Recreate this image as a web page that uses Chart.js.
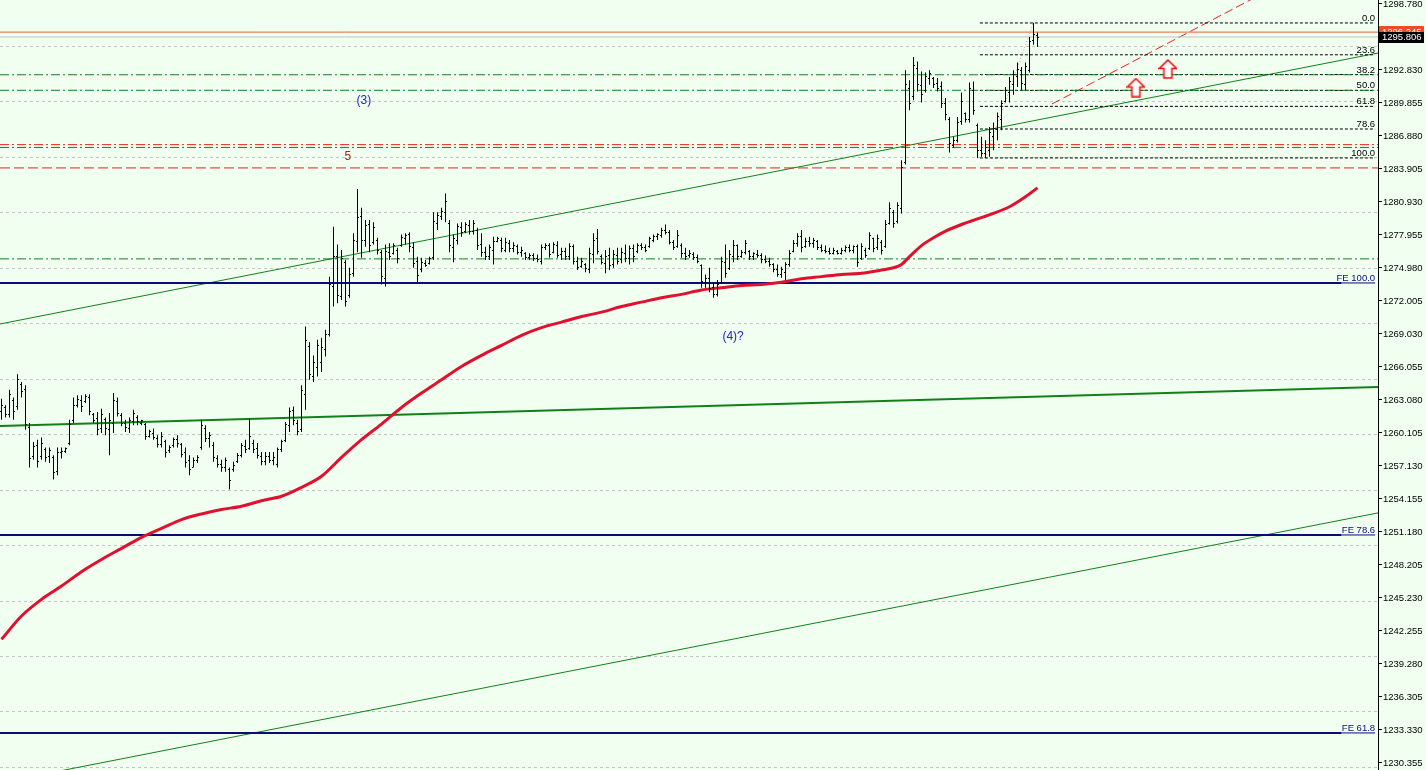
<!DOCTYPE html>
<html>
<head>
<meta charset="utf-8">
<title>Gold H1</title>
<script src="https://cdn.jsdelivr.net/npm/chart.js@4.4.1/dist/chart.umd.min.js"></script>
<style>
  html, body { margin: 0; padding: 0; background: #f0fff0; }
  #wrap { width: 1426px; height: 770px; }
</style>
</head>
<body>
<div id="wrap"><canvas id="chart" width="1426" height="770"></canvas></div>
<script>
// OHLC bars, oldest first (index = bar number)
const highs = [
  1263.2, 1262.6, 1264.0, 1263.3, 1265.4, 1264.7, 1264.4, 1261.0, 1259.3, 1259.5,
  1259.7, 1258.8, 1258.8, 1258.1, 1258.8, 1258.8, 1258.8, 1261.3, 1263.3, 1263.5,
  1263.5, 1263.6, 1263.6, 1261.9, 1262.0, 1262.3, 1261.5, 1261.9, 1263.7, 1263.3,
  1261.9, 1261.3, 1261.5, 1262.2, 1261.7, 1261.3, 1261.0, 1260.4, 1260.5, 1259.9,
  1260.2, 1259.5, 1259.0, 1259.7, 1259.9, 1259.2, 1258.8, 1258.1, 1257.9, 1258.1,
  1261.3, 1260.8, 1260.2, 1259.3, 1258.1, 1257.7, 1257.9, 1257.0, 1257.5, 1258.3,
  1259.2, 1259.5, 1261.4, 1259.5, 1259.2, 1258.4, 1258.4, 1258.4, 1258.4, 1258.8,
  1259.5, 1261.1, 1262.4, 1262.5, 1261.3, 1264.4, 1269.7, 1268.3, 1267.1, 1268.5,
  1268.7, 1269.4, 1274.2, 1278.7, 1277.1, 1276.6, 1275.7, 1275.0, 1278.1, 1282.1,
  1280.4, 1279.3, 1279.3, 1279.1, 1277.7, 1276.6, 1277.1, 1277.2, 1277.2, 1276.8,
  1278.0, 1278.1, 1278.2, 1277.3, 1276.0, 1275.9, 1275.7, 1276.0, 1280.0, 1280.0,
  1280.4, 1281.7, 1279.3, 1278.0, 1279.0, 1279.1, 1279.1, 1279.3, 1279.3, 1278.6,
  1278.1, 1276.9, 1277.1, 1277.8, 1277.8, 1277.7, 1277.7, 1277.5, 1277.3, 1277.1,
  1276.9, 1276.4, 1276.3, 1276.3, 1276.2, 1277.1, 1277.2, 1277.2, 1277.3, 1277.4,
  1276.8, 1276.8, 1277.2, 1277.1, 1276.0, 1275.9, 1275.4, 1276.8, 1278.1, 1278.5,
  1276.2, 1276.6, 1276.8, 1276.6, 1276.8, 1276.8, 1277.1, 1277.0, 1277.1, 1277.2,
  1277.2, 1277.1, 1277.8, 1278.0, 1278.1, 1278.6, 1278.9, 1278.4, 1277.5, 1278.4,
  1277.2, 1276.8, 1276.6, 1276.4, 1276.2, 1275.3, 1274.4, 1275.0, 1273.6, 1273.9,
  1276.0, 1277.1, 1276.6, 1277.5, 1277.1, 1276.6, 1277.5, 1276.6, 1276.4, 1276.6,
  1276.3, 1276.1, 1275.9, 1275.4, 1275.3, 1275.1, 1275.5, 1276.6, 1277.5, 1278.1,
  1278.4, 1277.7, 1277.8, 1277.7, 1277.5, 1277.1, 1277.0, 1276.8, 1276.8, 1276.6,
  1276.8, 1277.0, 1277.1, 1277.0, 1277.1, 1277.2, 1276.8, 1278.2, 1277.7, 1278.0,
  1277.5, 1279.3, 1280.9, 1280.2, 1280.9, 1284.7, 1292.8, 1291.9, 1294.0, 1293.6,
  1292.7, 1292.6, 1292.8, 1292.2, 1292.1, 1291.8, 1290.3, 1288.6, 1286.8, 1288.6,
  1290.8, 1289.0, 1291.7, 1291.8, 1288.0, 1286.8, 1286.5, 1287.7, 1288.1, 1289.0,
  1290.1, 1291.3, 1292.2, 1292.8, 1293.5, 1293.1, 1293.5, 1295.8, 1297.1, 1296.2
];
const lows = [
  1261.3, 1261.5, 1261.5, 1261.3, 1262.2, 1263.3, 1260.4, 1257.0, 1257.7, 1257.0,
  1257.7, 1257.5, 1257.4, 1255.9, 1256.3, 1257.8, 1258.3, 1259.0, 1261.0, 1262.4,
  1262.0, 1262.8, 1261.7, 1261.0, 1259.9, 1260.1, 1259.9, 1258.1, 1260.1, 1261.6,
  1260.7, 1260.2, 1260.1, 1260.8, 1260.8, 1260.8, 1259.5, 1259.7, 1259.5, 1258.8,
  1258.8, 1257.9, 1258.3, 1258.8, 1258.8, 1257.9, 1257.0, 1256.3, 1257.0, 1257.4,
  1258.6, 1259.3, 1258.8, 1257.5, 1257.0, 1256.6, 1256.6, 1255.0, 1256.6, 1257.4,
  1257.9, 1258.3, 1258.6, 1258.3, 1257.8, 1257.2, 1257.2, 1257.4, 1257.2, 1257.0,
  1258.4, 1259.3, 1260.2, 1260.8, 1259.9, 1260.2, 1262.2, 1264.9, 1264.7, 1265.2,
  1265.6, 1267.0, 1268.8, 1271.5, 1271.8, 1272.1, 1271.5, 1272.3, 1274.2, 1276.4,
  1275.9, 1276.9, 1276.4, 1277.1, 1276.2, 1273.5, 1273.3, 1275.7, 1276.2, 1275.4,
  1276.9, 1277.1, 1276.4, 1275.0, 1273.7, 1274.6, 1275.1, 1275.3, 1275.7, 1278.4,
  1279.3, 1279.1, 1276.4, 1275.5, 1277.1, 1277.8, 1278.1, 1278.0, 1278.0, 1276.6,
  1276.0, 1275.7, 1275.7, 1275.3, 1277.3, 1276.4, 1276.4, 1276.4, 1276.4, 1276.2,
  1276.0, 1275.7, 1275.7, 1275.6, 1275.5, 1275.3, 1276.6, 1275.9, 1276.3, 1275.9,
  1275.7, 1275.7, 1275.7, 1275.3, 1274.8, 1275.0, 1274.6, 1274.5, 1275.4, 1276.2,
  1275.3, 1274.5, 1274.8, 1275.0, 1275.3, 1275.4, 1275.5, 1275.3, 1275.5, 1276.3,
  1276.6, 1276.4, 1276.8, 1277.3, 1277.5, 1277.7, 1278.0, 1277.1, 1276.6, 1276.8,
  1275.9, 1275.7, 1275.9, 1275.7, 1275.4, 1273.2, 1273.2, 1272.8, 1272.3, 1272.4,
  1273.6, 1274.1, 1274.8, 1275.5, 1275.7, 1275.9, 1276.2, 1275.7, 1275.7, 1275.9,
  1275.4, 1275.4, 1275.1, 1274.6, 1274.2, 1274.1, 1273.9, 1275.1, 1276.4, 1276.9,
  1276.4, 1276.8, 1276.9, 1276.8, 1276.6, 1276.4, 1276.3, 1276.2, 1276.2, 1276.2,
  1276.2, 1276.4, 1276.4, 1276.3, 1275.1, 1275.7, 1275.9, 1276.6, 1276.4, 1276.6,
  1276.2, 1276.8, 1278.9, 1278.6, 1279.0, 1279.9, 1284.3, 1289.2, 1290.1, 1290.9,
  1289.9, 1290.8, 1291.5, 1291.2, 1290.9, 1289.4, 1288.3, 1285.4, 1285.8, 1286.3,
  1287.9, 1288.1, 1288.1, 1288.8, 1284.9, 1285.0, 1284.9, 1285.0, 1285.6, 1286.5,
  1287.4, 1289.9, 1289.9, 1290.6, 1291.3, 1291.0, 1291.0, 1292.6, 1295.1, 1294.9
];
const opens = [
  1262.0, 1262.4, 1261.8, 1263.0, 1262.5, 1264.5, 1264.0, 1260.6, 1258.0, 1259.0,
  1258.0, 1258.6, 1258.0, 1257.9, 1256.6, 1258.3, 1258.4, 1259.2, 1261.2, 1262.6,
  1263.0, 1262.9, 1263.3, 1261.8, 1261.4, 1260.5, 1261.3, 1260.4, 1261.0, 1262.9,
  1261.7, 1261.0, 1260.5, 1261.1, 1261.5, 1261.0, 1260.9, 1259.8, 1260.1, 1259.6,
  1259.1, 1259.3, 1258.5, 1259.0, 1259.5, 1259.1, 1258.3, 1257.6, 1257.0, 1257.6,
  1258.8, 1260.5, 1259.6, 1259.0, 1257.8, 1257.3, 1257.0, 1256.8, 1256.8, 1257.5,
  1258.1, 1258.9, 1258.7, 1259.2, 1258.7, 1258.0, 1257.5, 1258.0, 1257.6, 1257.3,
  1258.6, 1259.4, 1260.8, 1262.1, 1261.0, 1260.4, 1263.6, 1267.9, 1265.2, 1266.0,
  1266.5, 1267.6, 1269.0, 1273.3, 1276.0, 1272.4, 1275.5, 1272.5, 1274.5, 1277.4,
  1279.6, 1277.5, 1278.9, 1277.3, 1277.5, 1276.4, 1274.0, 1276.4, 1276.3, 1276.6,
  1277.0, 1277.6, 1278.0, 1276.8, 1275.6, 1274.8, 1275.4, 1275.4, 1275.9, 1279.0,
  1279.6, 1280.0, 1279.0, 1276.8, 1277.5, 1278.6, 1278.3, 1278.8, 1278.3, 1278.4,
  1277.1, 1276.4, 1276.0, 1276.6, 1277.4, 1277.5, 1276.6, 1277.2, 1276.7, 1276.9,
  1276.4, 1276.3, 1275.9, 1276.1, 1275.8, 1275.6, 1276.8, 1277.0, 1276.4, 1277.0,
  1276.2, 1276.5, 1276.0, 1276.9, 1275.6, 1275.1, 1275.3, 1274.8, 1276.2, 1277.6,
  1276.0, 1275.4, 1276.1, 1275.3, 1276.1, 1275.7, 1276.3, 1275.8, 1276.7, 1276.5,
  1277.0, 1276.8, 1276.9, 1277.5, 1277.8, 1277.9, 1278.4, 1278.2, 1277.3, 1276.9,
  1277.0, 1276.3, 1276.1, 1276.2, 1275.9, 1275.2, 1273.7, 1274.0, 1273.2, 1272.6,
  1273.7, 1275.5, 1274.9, 1276.0, 1277.0, 1276.0, 1276.4, 1276.5, 1276.0, 1276.2,
  1276.1, 1275.7, 1275.6, 1275.3, 1274.8, 1274.4, 1274.6, 1275.3, 1276.5, 1277.2,
  1277.8, 1276.9, 1277.4, 1277.2, 1277.4, 1276.8, 1276.6, 1276.5, 1276.3, 1276.5,
  1276.3, 1276.6, 1276.8, 1276.6, 1276.9, 1275.8, 1276.6, 1276.7, 1277.6, 1276.8,
  1277.3, 1276.9, 1279.0, 1280.0, 1279.2, 1280.3, 1284.5, 1291.2, 1290.4, 1293.0,
  1291.4, 1291.0, 1292.1, 1292.1, 1291.6, 1291.3, 1289.8, 1288.4, 1286.0, 1286.5,
  1288.2, 1288.9, 1288.4, 1291.0, 1287.8, 1285.6, 1285.3, 1285.6, 1286.8, 1287.5,
  1288.4, 1290.0, 1290.8, 1291.5, 1292.2, 1292.8, 1291.5, 1292.8, 1295.5, 1295.9
];
const closes = [
  1262.6, 1261.8, 1263.6, 1262.0, 1264.9, 1263.8, 1260.9, 1257.8, 1258.9, 1257.5,
  1259.2, 1257.9, 1258.5, 1256.5, 1258.3, 1258.4, 1258.7, 1260.9, 1262.6, 1263.1,
  1262.5, 1263.4, 1262.0, 1261.2, 1260.4, 1261.8, 1260.5, 1261.2, 1263.0, 1261.9,
  1261.0, 1260.6, 1261.2, 1261.9, 1261.1, 1261.2, 1259.8, 1260.2, 1259.7, 1259.1,
  1259.8, 1258.3, 1258.8, 1259.5, 1259.2, 1258.2, 1257.4, 1256.8, 1257.6, 1257.9,
  1260.8, 1259.6, 1259.9, 1257.9, 1257.3, 1257.0, 1257.6, 1255.8, 1257.2, 1258.1,
  1259.0, 1258.6, 1259.8, 1258.6, 1258.1, 1257.5, 1258.0, 1257.6, 1257.9, 1258.6,
  1259.3, 1260.9, 1262.0, 1261.2, 1260.2, 1263.9, 1268.4, 1265.4, 1266.5, 1268.0,
  1267.8, 1269.0, 1273.5, 1276.0, 1272.5, 1275.8, 1272.0, 1274.4, 1277.5, 1279.5,
  1277.5, 1278.8, 1277.0, 1278.6, 1276.6, 1274.2, 1276.5, 1276.0, 1277.0, 1275.8,
  1277.7, 1277.9, 1276.9, 1275.4, 1274.3, 1275.5, 1275.2, 1275.8, 1279.2, 1279.7,
  1280.1, 1281.0, 1277.0, 1277.6, 1278.7, 1278.2, 1278.9, 1278.3, 1279.0, 1277.0,
  1276.4, 1276.0, 1276.8, 1277.4, 1277.6, 1276.7, 1277.3, 1276.7, 1277.0, 1276.4,
  1276.6, 1275.9, 1276.1, 1275.8, 1275.7, 1276.8, 1277.0, 1276.2, 1277.1, 1276.1,
  1276.5, 1276.0, 1276.9, 1275.6, 1275.0, 1275.6, 1274.9, 1276.3, 1277.5, 1276.5,
  1275.5, 1276.0, 1275.2, 1276.2, 1275.6, 1276.4, 1275.8, 1276.7, 1276.0, 1277.0,
  1276.8, 1276.6, 1277.6, 1277.8, 1278.0, 1278.4, 1278.2, 1277.3, 1276.8, 1277.9,
  1276.3, 1276.0, 1276.3, 1275.9, 1275.6, 1273.8, 1274.0, 1273.1, 1272.6, 1273.5,
  1275.6, 1274.5, 1276.2, 1277.0, 1276.0, 1276.4, 1277.2, 1276.0, 1276.3, 1276.1,
  1275.7, 1275.6, 1275.3, 1274.8, 1274.4, 1274.8, 1275.3, 1276.3, 1277.2, 1277.8,
  1276.8, 1277.4, 1277.2, 1277.5, 1276.8, 1276.6, 1276.5, 1276.3, 1276.6, 1276.3,
  1276.6, 1276.8, 1276.6, 1276.9, 1275.5, 1276.9, 1276.1, 1277.9, 1276.7, 1277.6,
  1276.6, 1278.9, 1280.3, 1279.0, 1280.6, 1284.0, 1291.5, 1289.8, 1293.2, 1291.5,
  1290.6, 1292.2, 1292.5, 1291.5, 1291.2, 1289.8, 1288.8, 1286.2, 1286.5, 1288.1,
  1290.0, 1288.4, 1291.2, 1289.2, 1285.6, 1285.3, 1285.8, 1287.2, 1287.6, 1288.6,
  1289.8, 1291.0, 1291.8, 1292.4, 1292.9, 1291.6, 1293.1, 1295.4, 1296.0, 1295.8
];

// moving average, read at a few bars
const maBars = [0, 5, 10, 15, 20, 25, 30, 35, 40, 45, 50, 55, 60, 65, 70, 75, 80, 85, 90, 95,
  100, 105, 110, 115, 120, 125, 130, 135, 140, 145, 150, 155, 160, 165, 170, 175, 180, 185, 190, 195,
  200, 205, 210, 215, 220, 223, 225, 227, 230, 233, 236, 240, 244, 248, 252, 256, 259];
const maValues = [1241.5, 1243.6, 1245.1, 1246.3, 1247.6, 1248.7, 1249.7, 1250.7, 1251.5, 1252.3,
  1252.8, 1253.2, 1253.5, 1254.0, 1254.4, 1255.2, 1256.2, 1257.9, 1259.5, 1260.9,
  1262.4, 1263.7, 1264.9, 1266.1, 1267.1, 1268.0, 1268.9, 1269.6, 1270.1, 1270.6,
  1271.0, 1271.5, 1271.9, 1272.3, 1272.6, 1273.0, 1273.2, 1273.4, 1273.5, 1273.7,
  1274.0, 1274.2, 1274.4, 1274.5, 1274.8, 1275.0, 1275.3, 1276.0, 1277.0, 1277.7,
  1278.3, 1278.9, 1279.4, 1279.9, 1280.5, 1281.4, 1282.2];

// price axis
const yTicks = [1230.355, 1233.330, 1236.305, 1239.280, 1242.255, 1245.230, 1248.205, 1251.180,
  1254.155, 1257.130, 1260.105, 1263.080, 1266.055, 1269.030, 1272.005, 1274.980, 1277.955,
  1280.930, 1283.905, 1286.880, 1289.855, 1292.830, 1295.805, 1298.780];
const gridLevels = [1230, 1235, 1240, 1245, 1250, 1255, 1260, 1265, 1270, 1275, 1280, 1285, 1290, 1295];
const askPrice = 1296.245;
const bidPrice = 1295.806;

// horizontal objects
const greenLevels = [1292.4, 1291.0, 1285.85, 1275.8];
const redDashDotLevels = [1286.1];
const redDashLevels = [1284.0];
const feLevels = [1273.63, 1250.91, 1233.06];
const feLabels = ['FE 100.0', 'FE 78.6', 'FE 61.8'];

// fibonacci retracement
const fibPrices = [1297.07, 1294.20, 1292.42, 1290.99, 1289.55, 1287.51, 1284.90];
const fibLabels = ['0.0', '23.6', '38.2', '50.0', '61.8', '78.6', '100.0'];

// trend lines: [bar0, price0, bar1, price1]
const channelTop = [-0.375, 1269.93, 344.125, 1294.36];
const channelBottom = [-0.375, 1228.58, 344.125, 1252.90];
const longTrend = [-0.375, 1260.74, 344.125, 1264.25];
const redTrend = [262.6, 1289.76, 314.6, 1299.6];
const fibTrend = [246, 1284.9, 258, 1297.1];

// arrows and wave labels
const arrowBars = [283.6, 291.6];
const arrowPrices = [1291.25, 1292.92];
const waveLabels = ['(3)', '5', '(4)?'];
const waveBars = [90.6, 86.6, 182.9];
const wavePrices = [1290.03, 1284.99, 1268.76];
const waveColors = ['#2424c8', '#a82020', '#2424c8'];

const X_MIN = -0.375, X_MAX = 344.125;
const FIB_START = 244.6, FIB_END = 343.4, FE_THICK_END = 335.0;
const GREEN = '#12801a', NAVY = '#0a0a78', RED = '#ee2020';
const SMALL_FONT = "9.5px 'Liberation Sans', Arial, sans-serif";

Chart.defaults.font.family = "'Liberation Sans', Arial, sans-serif";
Chart.defaults.color = '#000';

const seg = (x0, y0, x1, y1) => [{x: x0, y: y0}, {x: x1, y: y1}];
function lineSet(data, color, width, dash) {
  return {type: 'line', data, borderColor: color, borderWidth: width, borderDash: dash || [],
    pointRadius: 0, fill: false, tension: 0, order: 5};
}

function makeArrow() {
  const c = document.createElement('canvas');
  c.width = 19; c.height = 20;
  const g = c.getContext('2d');
  g.beginPath();
  g.moveTo(9.5, 1); g.lineTo(18, 9.5); g.lineTo(13.5, 9.5); g.lineTo(13.5, 19);
  g.lineTo(5.5, 19); g.lineTo(5.5, 9.5); g.lineTo(1, 9.5); g.closePath();
  g.fillStyle = '#ffffff'; g.fill();
  g.strokeStyle = '#ee1414'; g.lineWidth = 1.6; g.stroke();
  return c;
}

const datasets = [];
// bars: high-low range
datasets.push({
  type: 'bar',
  data: highs.map((h, i) => ({x: i, y: [lows[i], h]})),
  backgroundColor: '#000', barThickness: 1, inflateAmount: 0, order: 0
});
// moving average
datasets.push({
  type: 'line', data: maBars.map((b, k) => ({x: b, y: maValues[k]})),
  borderColor: '#e0102e', borderWidth: 3, pointRadius: 0, cubicInterpolationMode: 'monotone', order: 2
});
// horizontal levels
datasets.push(lineSet(seg(X_MIN, askPrice, X_MAX, askPrice), '#e8603a', 1));
datasets.push(lineSet(seg(X_MIN, bidPrice, X_MAX, bidPrice), '#c0c0c0', 1));
greenLevels.forEach(p => datasets.push(lineSet(seg(X_MIN, p, X_MAX, p), GREEN, 1, [9, 3, 2, 3])));
redDashDotLevels.forEach(p => datasets.push(lineSet(seg(X_MIN, p, X_MAX, p), RED, 1, [9, 3, 2, 3])));
redDashLevels.forEach(p => datasets.push(lineSet(seg(X_MIN, p, X_MAX, p), RED, 1, [10, 4])));
feLevels.forEach(p => {
  datasets.push(lineSet(seg(X_MIN, p, FE_THICK_END, p), NAVY, 2));
  datasets.push(lineSet(seg(FE_THICK_END, p, FIB_END, p), NAVY, 1));
});
fibPrices.forEach(p => datasets.push(lineSet(seg(FIB_START, p, FIB_END, p), '#000', 1, [3, 2])));
// trend lines
datasets.push(lineSet(seg(...longTrend), GREEN, 2));
datasets.push(lineSet(seg(...channelTop), GREEN, 1));
datasets.push(lineSet(seg(...channelBottom), GREEN, 1));
datasets.push(lineSet(seg(...redTrend), RED, 1, [9, 4]));
datasets.push(lineSet(seg(...fibTrend), 'rgba(220,120,120,0.8)', 1, [1, 2]));
// arrows
const arrowImg = makeArrow();
datasets.push({
  type: 'line', showLine: false, data: arrowBars.map((b, k) => ({x: b, y: arrowPrices[k]})),
  pointStyle: arrowImg, pointRadius: 10, order: 1
});

// dashed grid at round prices
const gridPlugin = {
  id: 'priceGrid',
  beforeDatasetsDraw(chart) {
    const {ctx, chartArea: a, scales: {y}} = chart;
    ctx.save();
    ctx.strokeStyle = '#c4c4c4';
    ctx.lineWidth = 1;
    ctx.setLineDash([3, 3]);
    gridLevels.forEach(p => {
      const py = Math.round(y.getPixelForValue(p)) + 0.5;
      ctx.beginPath(); ctx.moveTo(a.left, py); ctx.lineTo(a.right, py); ctx.stroke();
    });
    ctx.restore();
  }
};

// open / close ticks of the bars
const ohlcTicks = {
  id: 'ohlcTicks',
  afterDatasetsDraw(chart) {
    const {ctx, scales: {x, y}} = chart;
    ctx.save();
    ctx.fillStyle = '#000';
    opens.forEach((o, i) => {
      const px = Math.round(x.getPixelForValue(i) - 0.5);
      ctx.fillRect(px - 1, Math.round(y.getPixelForValue(o) - 0.5), 1, 1);
      ctx.fillRect(px + 1, Math.round(y.getPixelForValue(closes[i]) - 0.5), 1, 1);
    });
    ctx.restore();
  }
};

// texts and price tags
const overlay = {
  id: 'overlay',
  afterDraw(chart) {
    const {ctx, chartArea: a, scales: {x, y}} = chart;
    ctx.save();
    ctx.font = SMALL_FONT;
    ctx.textAlign = 'right';
    ctx.textBaseline = 'alphabetic';
    ctx.fillStyle = '#000';
    fibPrices.forEach((p, k) => ctx.fillText(fibLabels[k], x.getPixelForValue(FIB_END), y.getPixelForValue(p) - 2));
    ctx.fillStyle = NAVY;
    feLevels.forEach((p, k) => ctx.fillText(feLabels[k], x.getPixelForValue(FIB_END), y.getPixelForValue(p) - 2));

    ctx.font = "12px 'Liberation Sans', Arial, sans-serif";
    ctx.textAlign = 'center';
    ctx.textBaseline = 'middle';
    waveLabels.forEach((t, k) => {
      ctx.fillStyle = waveColors[k];
      ctx.fillText(t, x.getPixelForValue(waveBars[k]), y.getPixelForValue(wavePrices[k]));
    });

    // ask / bid boxes on the axis
    const ax = a.right + 1;
    ctx.font = SMALL_FONT;
    ctx.textAlign = 'left';
    const askY = y.getPixelForValue(askPrice);
    ctx.fillStyle = '#f04a2a';
    ctx.fillRect(ax, Math.round(askY) - 6, 45, 12);
    ctx.fillStyle = '#fff';
    ctx.fillText(askPrice.toFixed(3), ax + 3, askY);
    const bidY = y.getPixelForValue(bidPrice);
    ctx.fillStyle = '#000';
    ctx.fillRect(ax, Math.round(bidY) - 5, 45, 11);
    ctx.fillStyle = '#fff';
    ctx.fillText(bidPrice.toFixed(3), ax + 3, bidY + 0.5);
    ctx.restore();
  }
};

new Chart(document.getElementById('chart'), {
  type: 'line',
  data: {datasets},
  options: {
    responsive: false,
    animation: false,
    events: [],
    layout: {padding: 0, autoPadding: false},
    plugins: {legend: {display: false}, tooltip: {enabled: false}},
    scales: {
      x: {type: 'linear', min: X_MIN, max: X_MAX, offset: false, display: false},
      y: {
        type: 'linear', position: 'right', min: 1229.72, max: 1299.14,
        afterBuildTicks: s => { s.ticks = yTicks.map(v => ({value: v})); },
        afterFit: s => { s.width = 48; s.paddingTop = 0; s.paddingBottom = 0; },
        ticks: {
          autoSkip: false, padding: 1, color: '#000',
          font: {size: 9.5, family: "'Liberation Sans', Arial, sans-serif"},
          callback: v => Number(v).toFixed(3)
        },
        grid: {drawOnChartArea: false, drawTicks: true, tickLength: 4, color: '#000'},
        border: {display: true, color: '#000'}
      }
    }
  },
  plugins: [gridPlugin, ohlcTicks, overlay]
});
</script>
</body>
</html>
